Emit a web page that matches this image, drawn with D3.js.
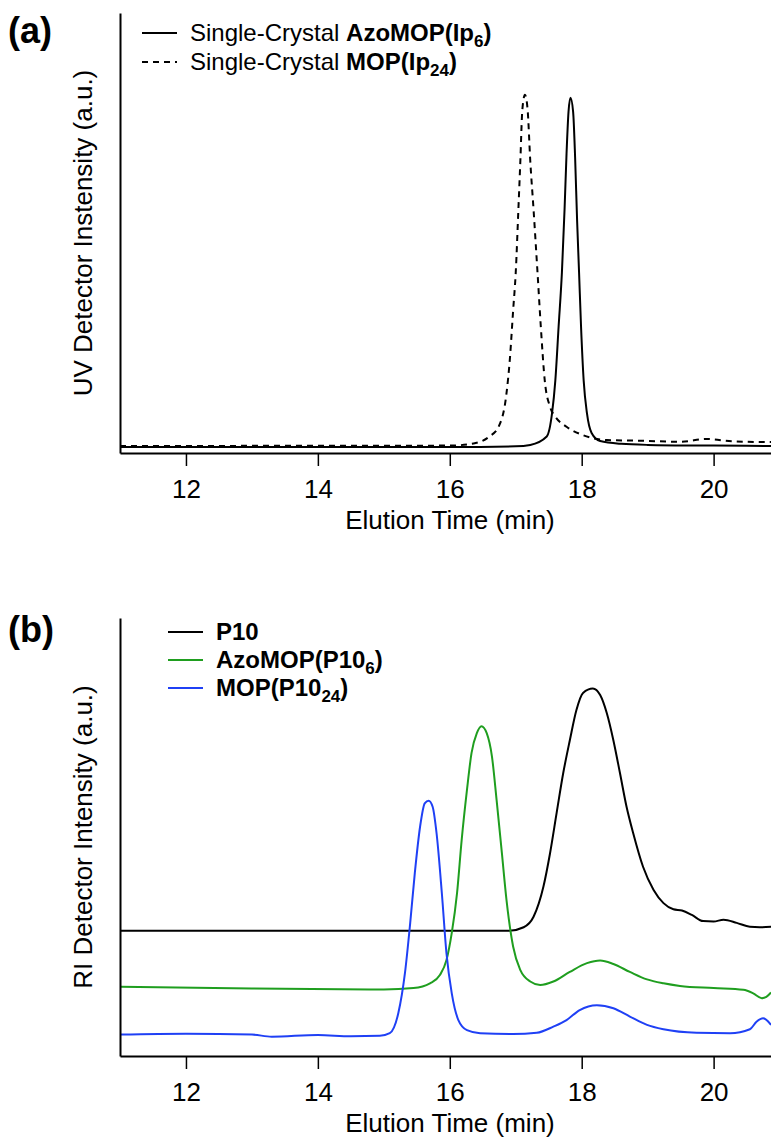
<!DOCTYPE html>
<html>
<head>
<meta charset="utf-8">
<script src="https://cdn.jsdelivr.net/npm/d3@7"></script>
<style>
  body { margin: 0; background: #fff; }
  svg { display: block; font-family: "Liberation Sans", Arial, sans-serif; }
</style>
</head>
<body>
<div id="chart-area"></div>
<script>
// panel (a) - UV detector
const azoTime = [11, 16, 17, 17.22, 17.47, 17.55, 17.60, 17.65, 17.70, 17.74, 17.77, 17.80, 17.83, 17.87, 17.90, 17.93, 17.96, 17.99, 18.03, 18.08, 18.15, 18.28, 18.6, 19.0, 20.0, 20.87]
const azoUV   = [0, 0, 0.2, 0.6, 3, 9.6, 19, 34.5, 50, 68, 84, 96, 100, 96, 83, 65, 50, 34.5, 19, 9.6, 4, 1.7, 0.9, 0.6, 0.4, 0.3]

const mopTime = [11, 16.0, 16.36, 16.6, 16.74, 16.86, 16.91, 16.96, 17.0, 17.04, 17.07, 17.10, 17.14, 17.18, 17.22, 17.27, 17.33, 17.38, 17.44, 17.52, 17.60, 17.77, 18.02, 18.38, 18.9, 19.5, 19.9, 20.3, 20.87]
const mopUV   = [0.3, 0.4, 1, 3, 5.8, 15.4, 25, 39, 50, 68, 82, 96.6, 100.9, 96.6, 82, 68, 50, 34.5, 19, 11.5, 8.7, 5.8, 3.4, 2, 1.8, 1.5, 2.3, 1.6, 1.4]

// panel (b) - RI detector
const p10Time = [11, 16.9, 17.12, 17.27, 17.42, 17.52, 17.62, 17.72, 17.82, 17.92, 18.02, 18.17, 18.28, 18.38, 18.48, 18.58, 18.68, 18.78, 18.93, 19.09, 19.24, 19.39, 19.52, 19.67, 19.84, 20.0, 20.15, 20.35, 20.55, 20.70, 20.87]
const p10RI   = [28.6, 28.6, 29.4, 31.8, 38.7, 46.3, 55.5, 64.6, 72.1, 79.0, 82.9, 83.9, 82.4, 78.3, 72.1, 64.6, 56.9, 50.9, 43.2, 37.9, 34.9, 33.5, 33.2, 32.2, 30.8, 30.7, 31.1, 30.4, 29.5, 29.4, 29.5]

const azoP10Time = [11, 13, 15, 15.45, 15.70, 15.85, 15.95, 16.03, 16.11, 16.18, 16.26, 16.33, 16.41, 16.48, 16.56, 16.64, 16.71, 16.79, 16.86, 16.96, 17.07, 17.22, 17.37, 17.57, 17.82, 18.08, 18.28, 18.48, 18.73, 18.99, 19.24, 19.49, 20.0, 20.45, 20.60, 20.73, 20.80, 20.87]
const azoP10RI   = [15.8, 15.4, 15.2, 15.5, 16.6, 18.5, 21.9, 28.1, 37.2, 49.3, 60.7, 69.2, 73.7, 75.3, 73.7, 68.3, 58.4, 46.3, 35.6, 25.0, 19.6, 17.0, 16.2, 17.0, 19.2, 21.2, 21.8, 21.0, 19.2, 17.5, 16.6, 16.0, 15.5, 15.1, 14.3, 13.2, 13.5, 14.5]

const mopP10Time = [11, 12, 13, 13.3, 14, 14.5, 14.94, 15.09, 15.22, 15.32, 15.40, 15.47, 15.55, 15.62, 15.68, 15.74, 15.80, 15.88, 15.95, 16.03, 16.13, 16.26, 16.46, 16.96, 17.32, 17.57, 17.77, 17.97, 18.23, 18.48, 18.73, 18.99, 19.24, 19.74, 20.25, 20.55, 20.65, 20.75, 20.87]
const mopP10RI   = [4.9, 5.1, 4.9, 4.4, 4.8, 4.5, 4.6, 5.2, 9.8, 18.9, 30.4, 41.8, 52.4, 57.7, 58.3, 56.9, 50.8, 37.1, 23.4, 14.3, 8.2, 5.9, 5.2, 5.0, 5.3, 6.7, 8.2, 10.5, 11.6, 10.9, 9.0, 7.1, 6.1, 5.3, 5.2, 6.1, 7.8, 8.6, 7.1]

const xTicks = [12, 14, 16, 18, 20]

const W = 771, H = 1139
const LEFT = 120, RIGHT = 771

const svg = d3.select("#chart-area").append("svg")
  .attr("width", W)
  .attr("height", H)

const x = d3.scaleLinear()
  .domain([11, 20.87])
  .range([LEFT, RIGHT])

const zip = (ts, vs) => ts.map((t, i) => ({ t: t, v: vs[i] }))

function panel(cfg) {
  const y = d3.scaleLinear().domain(cfg.yDomain).range([cfg.bottom, cfg.top])
  const g = svg.append("g")

  g.append("clipPath").attr("id", cfg.id + "-clip")
    .append("rect")
    .attr("x", LEFT).attr("y", cfg.top)
    .attr("width", RIGHT - LEFT).attr("height", cfg.bottom - cfg.top)

  const line = d3.line()
    .x(d => x(d.t))
    .y(d => y(d.v))
    .curve(d3.curveMonotoneX)

  cfg.series.forEach(s => {
    g.append("path")
      .datum(zip(s.time, s.vals))
      .attr("clip-path", `url(#${cfg.id}-clip)`)
      .attr("fill", "none")
      .attr("stroke", s.color)
      .attr("stroke-width", 2)
      .attr("stroke-dasharray", s.dash || null)
      .attr("d", line)
  })

  // x axis
  const xAxis = g.append("g")
    .attr("transform", `translate(0, ${cfg.bottom})`)
    .call(d3.axisBottom(x).tickValues(xTicks).tickSize(13).tickSizeOuter(0).tickPadding(14))
  xAxis.select(".domain").attr("stroke", "#000").attr("stroke-width", 2)
  xAxis.selectAll(".tick line").attr("stroke", "#000").attr("stroke-width", 1.5)
  xAxis.selectAll(".tick text")
    .attr("font-size", "26px")
    .attr("fill", "#000")
    .style("font-family", "'Liberation Sans', Arial, sans-serif")

  // y axis, no ticks
  const yAxis = g.append("g")
    .attr("transform", `translate(${LEFT}, 0)`)
    .call(d3.axisLeft(y).tickValues([]).tickSizeOuter(0))
  yAxis.select(".domain").attr("stroke", "#000").attr("stroke-width", 2)

  // X label
  g.append("text")
    .attr("x", 450)
    .attr("y", cfg.bottom + 76)
    .attr("font-size", "26px")
    .attr("text-anchor", "middle")
    .text("Elution Time (min)")

  // Y label
  g.append("text")
    .attr("transform", `translate(92, ${(cfg.top + cfg.bottom) / 2}) rotate(-90)`)
    .attr("font-size", "26px")
    .attr("text-anchor", "middle")
    .text(cfg.yLabel)

  // panel letter
  g.append("text")
    .attr("x", 8)
    .attr("y", cfg.top + cfg.letterDy)
    .attr("font-size", "36px")
    .attr("font-weight", "bold")
    .text(cfg.letter)

  // legend
  cfg.legend.forEach((l, i) => {
    const ly = cfg.legendY + i * cfg.legendStep
    g.append("line")
      .attr("x1", cfg.legendX).attr("x2", cfg.legendX + 35)
      .attr("y1", ly).attr("y2", ly)
      .attr("stroke", l.color)
      .attr("stroke-width", 2)
      .attr("stroke-dasharray", l.dash || null)
    const t = g.append("text")
      .attr("x", cfg.legendX + 48)
      .attr("y", ly + 8)
      .attr("font-size", "24px")
    if (l.prefix) t.append("tspan").text(l.prefix)
    t.append("tspan").attr("font-weight", "bold").text(l.name)
    if (l.sub) {
      t.append("tspan").attr("font-weight", "bold").attr("font-size", "17px").attr("dy", 6).text(l.sub)
      t.append("tspan").attr("font-weight", "bold").attr("dy", -6).text(")")
    }
  })
}

panel({
  id: "a",
  letter: "(a)",
  letterDy: 30,
  top: 13,
  bottom: 453,
  yDomain: [-1.72, 124.3],
  yLabel: "UV Detector Instensity (a.u.)",
  legendX: 142,
  legendY: 33,
  legendStep: 29,
  series: [
    { time: azoTime, vals: azoUV, color: "#000" },
    { time: mopTime, vals: mopUV, color: "#000", dash: "6,5" }
  ],
  legend: [
    { prefix: "Single-Crystal ", name: "AzoMOP(Ip", sub: "6", color: "#000" },
    { prefix: "Single-Crystal ", name: "MOP(Ip", sub: "24", color: "#000", dash: "6,5" }
  ]
})

panel({
  id: "b",
  letter: "(b)",
  letterDy: 24,
  top: 618,
  bottom: 1056,
  yDomain: [0, 100],
  yLabel: "RI Detector Intensity (a.u.)",
  legendX: 168,
  legendY: 632,
  legendStep: 28,
  series: [
    { time: p10Time, vals: p10RI, color: "#000" },
    { time: azoP10Time, vals: azoP10RI, color: "#1f9e1f" },
    { time: mopP10Time, vals: mopP10RI, color: "#1f40f5" }
  ],
  legend: [
    { name: "P10", color: "#000" },
    { name: "AzoMOP(P10", sub: "6", color: "#1f9e1f" },
    { name: "MOP(P10", sub: "24", color: "#1f40f5" }
  ]
})
</script>
</body>
</html>
